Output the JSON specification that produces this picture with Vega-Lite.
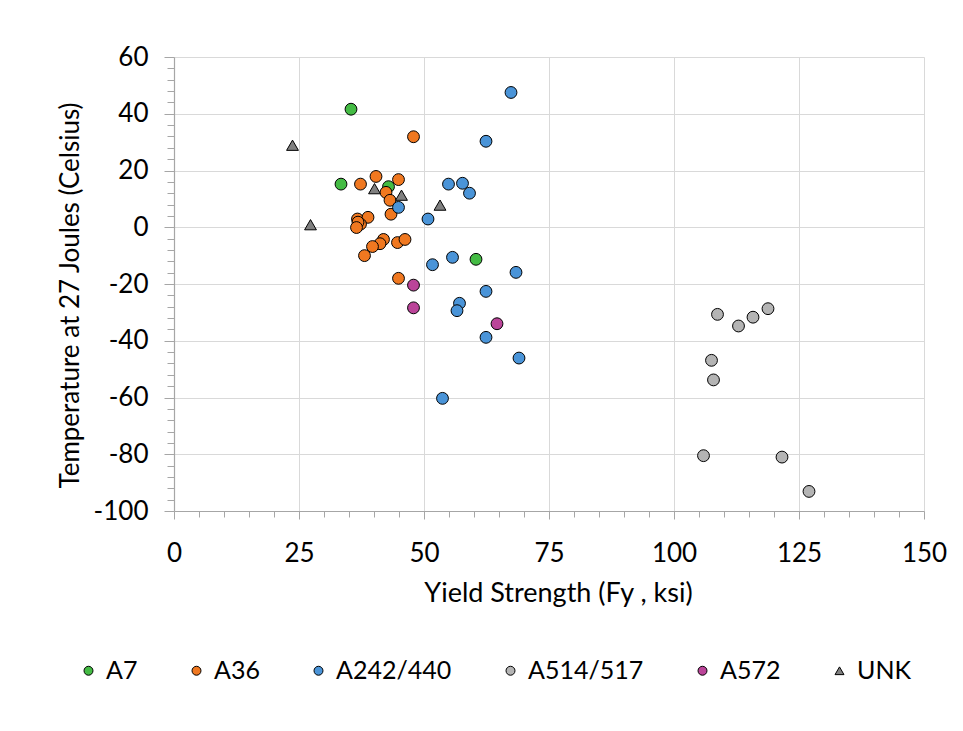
{
  "$schema": "https://vega.github.io/schema/vega-lite/v6.json",
  "width": 750,
  "height": 454,
  "autosize": {"type": "none"},
  "padding": {"left": 174, "top": 57, "right": 39, "bottom": 220},
  "background": "white",
  "config": {
    "view": {"stroke": null},
    "font": "Lato",
    "axis": {"labelFont": "Lato", "titleFont": "Lato"}
  },
  "data": {
    "values": [
      {"steel": "A7", "fy": 35.4, "t": 41.6},
      {"steel": "A7", "fy": 33.4, "t": 15.2},
      {"steel": "A7", "fy": 42.9, "t": 14.3},
      {"steel": "A7", "fy": 60.4, "t": -11.3},
      {"steel": "A36", "fy": 47.9, "t": 31.9},
      {"steel": "A36", "fy": 37.3, "t": 15.2},
      {"steel": "A36", "fy": 40.4, "t": 17.9},
      {"steel": "A36", "fy": 44.9, "t": 16.8},
      {"steel": "A36", "fy": 42.4, "t": 12.3},
      {"steel": "A36", "fy": 43.2, "t": 9.5},
      {"steel": "A36", "fy": 43.4, "t": 4.6},
      {"steel": "A36", "fy": 36.7, "t": 2.9},
      {"steel": "A36", "fy": 38.8, "t": 3.5},
      {"steel": "A36", "fy": 37.3, "t": 1.1},
      {"steel": "A36", "fy": 36.8, "t": 1.8},
      {"steel": "A36", "fy": 36.5, "t": -0.1},
      {"steel": "A36", "fy": 41.9, "t": -4.3},
      {"steel": "A36", "fy": 41.2, "t": -5.8},
      {"steel": "A36", "fy": 39.7, "t": -6.8},
      {"steel": "A36", "fy": 38.1, "t": -10.0},
      {"steel": "A36", "fy": 44.7, "t": -5.4},
      {"steel": "A36", "fy": 46.2, "t": -4.3},
      {"steel": "A36", "fy": 44.9, "t": -18.0},
      {"steel": "A242/440", "fy": 44.9, "t": 7.0},
      {"steel": "A242/440", "fy": 50.8, "t": 2.9},
      {"steel": "A242/440", "fy": 54.9, "t": 15.2},
      {"steel": "A242/440", "fy": 57.7, "t": 15.5},
      {"steel": "A242/440", "fy": 59.1, "t": 12.0},
      {"steel": "A242/440", "fy": 67.4, "t": 47.5},
      {"steel": "A242/440", "fy": 62.4, "t": 30.3},
      {"steel": "A242/440", "fy": 51.7, "t": -13.2},
      {"steel": "A242/440", "fy": 55.7, "t": -10.6},
      {"steel": "A242/440", "fy": 57.1, "t": -26.8},
      {"steel": "A242/440", "fy": 56.6, "t": -29.4},
      {"steel": "A242/440", "fy": 68.4, "t": -15.9},
      {"steel": "A242/440", "fy": 62.4, "t": -22.6},
      {"steel": "A242/440", "fy": 62.4, "t": -38.8},
      {"steel": "A242/440", "fy": 69.0, "t": -46.1},
      {"steel": "A242/440", "fy": 53.7, "t": -60.3},
      {"steel": "A514/517", "fy": 108.7, "t": -30.7},
      {"steel": "A514/517", "fy": 112.9, "t": -34.8},
      {"steel": "A514/517", "fy": 115.8, "t": -31.7},
      {"steel": "A514/517", "fy": 118.8, "t": -28.7},
      {"steel": "A514/517", "fy": 107.5, "t": -46.9},
      {"steel": "A514/517", "fy": 107.9, "t": -53.8},
      {"steel": "A514/517", "fy": 105.9, "t": -80.5},
      {"steel": "A514/517", "fy": 121.6, "t": -81.0},
      {"steel": "A514/517", "fy": 127.0, "t": -93.1},
      {"steel": "A572", "fy": 47.9, "t": -20.4},
      {"steel": "A572", "fy": 47.9, "t": -28.4},
      {"steel": "A572", "fy": 64.6, "t": -34.0},
      {"steel": "UNK", "fy": 23.7, "t": 28.9},
      {"steel": "UNK", "fy": 40.1, "t": 13.6},
      {"steel": "UNK", "fy": 45.5, "t": 11.3},
      {"steel": "UNK", "fy": 27.3, "t": 0.9},
      {"steel": "UNK", "fy": 53.2, "t": 7.8}
    ]
  },
  "mark": {"type": "point", "filled": true, "stroke": "black", "strokeWidth": 1, "opacity": 1, "size": 140},
  "encoding": {
    "x": {
      "field": "fy", "type": "quantitative",
      "scale": {"domain": [0, 150], "nice": false, "zero": false},
      "axis": {
        "title": "Yield Strength (Fy , ksi)",
        "titleFontSize": 27, "titleFontWeight": "normal", "titleColor": "black", "titlePadding": 14,
        "titleX": 384,
        "values": [0,5,10,15,20,25,30,35,40,45,50,55,60,65,70,75,80,85,90,95,100,105,110,115,120,125,130,135,140,145,150],
        "labelExpr": "datum.value % 25 === 0 ? datum.label : ''",
        "labelFontSize": 26, "labelColor": "black", "labelPadding": 21, "labelFlush": false, "labelOverlap": false,
        "domainColor": "#a6a6a6", "domainWidth": 1.2,
        "tickColor": "#a6a6a6",
        "tickSize": {"condition": {"test": "datum.value % 25 === 0", "value": 8}, "value": 6},
        "gridColor": "#d9d9d9",
        "gridOpacity": {"condition": {"test": "datum.value % 25 === 0", "value": 1}, "value": 0}
      }
    },
    "y": {
      "field": "t", "type": "quantitative",
      "scale": {"domain": [-100, 60], "nice": false, "zero": false},
      "axis": {
        "title": "Temperature at 27 Joules (Celsius)",
        "titleFontSize": 26, "titleFontWeight": "normal", "titleColor": "black", "titlePadding": 10,
        "titleY": 238,
        "values": [-100,-96,-92,-88,-84,-80,-76,-72,-68,-64,-60,-56,-52,-48,-44,-40,-36,-32,-28,-24,-20,-16,-12,-8,-4,0,4,8,12,16,20,24,28,32,36,40,44,48,52,56,60],
        "labelExpr": "datum.value % 20 === 0 ? replace(datum.label, '\u2212', '-') : ''",
        "labelFontSize": 26, "labelColor": "black", "labelPadding": 16, "labelFlush": false, "labelOverlap": false,
        "domainColor": "#a6a6a6", "domainWidth": 1.2,
        "tickColor": "#a6a6a6",
        "tickSize": {"condition": {"test": "datum.value % 20 === 0", "value": 10}, "value": 7},
        "gridColor": "#d9d9d9",
        "gridOpacity": {"condition": {"test": "datum.value % 20 === 0", "value": 1}, "value": 0}
      }
    },
    "color": {
      "field": "steel", "type": "nominal",
      "scale": {
        "domain": ["A7", "A36", "A242/440", "A514/517", "A572", "UNK"],
        "range": ["#44bb44", "#f07820", "#4a94d8", "#b4b4b4", "#bb4499", "#808080"]
      },
      "legend": {
        "title": null, "orient": "none", "direction": "horizontal",
        "legendX": -98, "legendY": 601,
        "labelFontSize": 25, "labelColor": "black", "labelFont": "Lato",
        "symbolSize": 80, "symbolStrokeColor": "black", "symbolStrokeWidth": 1,
        "columnPadding": 46, "labelOffset": 5
      }
    },
    "shape": {
      "field": "steel", "type": "nominal",
      "scale": {
        "domain": ["A7", "A36", "A242/440", "A514/517", "A572", "UNK"],
        "range": ["circle", "circle", "circle", "circle", "circle", "triangle-up"]
      },
      "legend": null
    }
  }
}
